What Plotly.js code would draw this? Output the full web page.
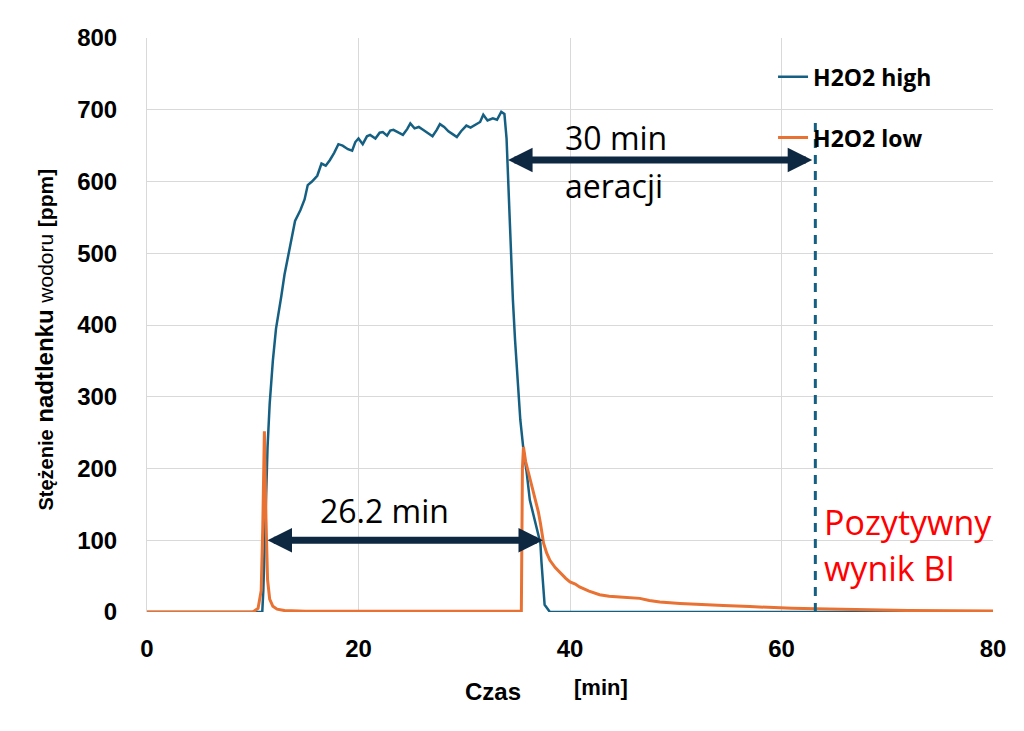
<!DOCTYPE html>
<html>
<head>
<meta charset="utf-8">
<script src="https://cdn.plot.ly/plotly-3.0.1.min.js"></script>
<style>
  html, body { margin: 0; padding: 0; background: white; }
  #chart { width: 1024px; height: 731px; }
</style>
</head>
<body>
<div id="chart"></div>
<script>

// H2O2 high - time [min] and concentration [ppm]
var high_t = [0, 10.9, 11.0, 11.2, 11.4, 11.6, 11.9, 12.2, 12.5, 12.7, 13.0, 13.5, 14.0, 14.5, 14.9, 15.2,
              15.6, 16.1, 16.5, 16.9, 17.3, 17.7, 18.1, 18.5, 19.0, 19.4, 19.7, 20.0, 20.4, 20.8, 21.1,
              21.6, 22.0, 22.3, 22.7, 23.0, 23.3, 23.8, 24.2, 24.6, 24.9, 25.3, 25.7, 26.1, 26.5, 27.0,
              27.4, 27.7, 28.1, 28.5, 28.9, 29.3, 29.7, 30.2, 30.6, 31.2, 31.5, 31.8, 32.2, 32.7, 33.1,
              33.5, 33.8, 34.0, 34.1, 34.3, 34.5, 34.6, 34.8, 35.0, 35.3, 35.6, 35.9, 36.2, 36.7, 37.0,
              37.2, 37.3, 37.6, 38.1, 80];
var high_y = [0, 0, 30, 150, 230, 290, 350, 395, 420, 440, 470, 505, 545, 560, 575, 595,
              600, 608, 625, 622, 630, 640, 652, 650, 645, 643, 655, 660, 652, 663, 665,
              660, 668, 669, 664, 671, 672, 668, 665, 673, 681, 674, 676, 672, 668, 663,
              672, 680, 676, 670, 666, 662, 670, 678, 675, 681, 683, 693, 685, 688, 686,
              697, 694, 660, 620, 560, 481, 435, 380, 330, 268, 226, 195, 156, 128, 110,
              96, 70, 10, 0, 0];

// H2O2 low
var low_t = [0, 10.0, 10.5, 10.8, 10.95, 11.1, 11.25, 11.4, 11.6, 11.9, 12.3, 13, 15, 20, 25, 30,
             35.4, 35.5, 35.6, 35.8, 36.0, 36.2, 36.5, 36.7, 37.0, 37.2, 37.5, 37.8, 38.1, 38.6,
             39.1, 39.6, 40.0, 40.5, 40.9, 41.8, 42.8, 43.7, 44.7, 45.6, 46.6, 47.5, 48.5, 50.4,
             52.0, 54.5, 57.0, 59.2, 61.0, 63.2, 66.0, 68.6, 72, 76, 80];
var low_y = [0, 0, 5, 30, 120, 252, 130, 45, 18, 8, 4, 2, 1, 1, 1, 1,
             1, 200, 230, 210, 198, 188, 170, 159, 140, 124, 96, 82, 72, 62,
             54, 47, 42, 39, 35, 29, 24, 22, 21, 20, 19, 16, 14, 12,
             10.5, 9, 7.5, 6, 5.2, 4.5, 3.5, 2.5, 2, 1.8, 1.5];

// BI result marker (dashed line)
var bi_t = [63.2, 63.2];
var bi_y = [0, 690];

// arrows: [start x, end x, y]
var arrow_aeration = [34.0, 62.9, 630];
var arrow_exposure = [11.25, 37.45, 100];

var x_ticks = [0, 20, 40, 60, 80];
var y_ticks = [0, 100, 200, 300, 400, 500, 600, 700, 800];

var blue = '#156082';
var orange = '#E97132';
var navy = '#0E2841';

// Build traces
var traces = [
    { x: high_t, y: high_y, name: 'H2O2 high', type: 'scatter', mode: 'lines',
      legendgroup: 'a', line: { color: blue, width: 2.5 } },
    { x: low_t, y: low_y, name: 'H2O2 low', type: 'scatter', mode: 'lines',
      legendgroup: 'b', line: { color: orange, width: 3 } },
    { x: bi_t, y: bi_y, type: 'scatter', mode: 'lines', showlegend: false,
      line: { color: blue, width: 3, dash: '9px,7px' } }
];

function double_arrow(a, color, width, size) {
    return { x: a[1], y: a[2], ax: a[0], ay: a[2], xref: 'x', yref: 'y', axref: 'x', ayref: 'y',
             text: '', showarrow: true, arrowside: 'end+start',
             arrowhead: 2, startarrowhead: 2, arrowsize: size, startarrowsize: size,
             arrowwidth: width, arrowcolor: color, standoff: 0, startstandoff: 0 };
}

var txt = { family: 'Open Sans, sans-serif', size: 32, color: 'black' };
var red = { family: 'Open Sans, sans-serif', size: 34, color: '#FF0000' };
var arial = 'Liberation Sans, Arial, sans-serif';

var annotations = [
    double_arrow(arrow_aeration, navy, 7, 0.7),
    double_arrow(arrow_exposure, navy, 7, 0.7),
    { x: 39.3, y: 662, xref: 'x', yref: 'y', text: '30 min', showarrow: false, xanchor: 'left', yanchor: 'middle', font: txt },
    { x: 39.3, y: 595, xref: 'x', yref: 'y', text: 'aeracji', showarrow: false, xanchor: 'left', yanchor: 'middle', font: txt },
    { x: 16.2, y: 142, xref: 'x', yref: 'y', text: '26.2 min', showarrow: false, xanchor: 'left', yanchor: 'middle', font: txt },
    { x: 63.8, y: 125, xref: 'x', yref: 'y', text: 'Pozytywny', showarrow: false, xanchor: 'left', yanchor: 'middle', font: red },
    { x: 63.8, y: 62, xref: 'x', yref: 'y', text: 'wynik BI', showarrow: false, xanchor: 'left', yanchor: 'middle', font: red },
    // axis titles
    { x: -0.121, y: 0.474, xref: 'paper', yref: 'paper', xanchor: 'center', yanchor: 'middle',
      textangle: -90, showarrow: false,
      text: '<b><span style="font-size:20px">Stężenie</span> nadtlenku</b> <span style="font-size:21px">wodoru</span> <b><span style="font-size:21px">[ppm]</span></b>',
      font: { family: arial, size: 24, color: 'black' } },
    { x: 0.409, y: -0.139, xref: 'paper', yref: 'paper', xanchor: 'center', yanchor: 'middle',
      showarrow: false, text: '<b>Czas</b>',
      font: { family: arial, size: 24, color: 'black' } },
    { x: 0.537, y: -0.132, xref: 'paper', yref: 'paper', xanchor: 'center', yanchor: 'middle',
      showarrow: false, text: '<b>[min]</b>',
      font: { family: arial, size: 22, color: 'black' } }
];

// Layout
var tickfont = { family: arial, size: 24, color: 'black', weight: 'bold' };
var layout = { width: 1024, height: 731,
               plot_bgcolor: 'white',
               paper_bgcolor: 'white',
               margin: { l: 147, r: 31, t: 38, b: 119 },
               xaxis: { range: [0, 80], tickvals: x_ticks, ticktext: x_ticks.map(String), showgrid: true,
                        gridcolor: '#d9d9d9', gridwidth: 1, zeroline: false, showline: false,
                        ticks: '', ticklabelstandoff: 20, tickfont: tickfont },
               yaxis: { range: [0, 800], tickvals: y_ticks, ticktext: y_ticks.map(String), showgrid: true,
                        gridcolor: '#d9d9d9', gridwidth: 1, zeroline: false, showline: true,
                        linecolor: '#d9d9d9', linewidth: 1,
                        ticks: '', ticklabelstandoff: 24, tickfont: tickfont },
               showlegend: true,
               legend: { x: 0.74, y: 0.97, xanchor: 'left', yanchor: 'top', bgcolor: 'rgba(0,0,0,0)',
                         traceorder: 'grouped', tracegroupgap: 28,
                         font: { family: 'Open Sans, sans-serif', size: 23, color: 'black', weight: 'bold' } },
               annotations: annotations };

var config = { staticPlot: true };

Plotly.newPlot('chart', traces, layout, config);

</script>
</body>
</html>
